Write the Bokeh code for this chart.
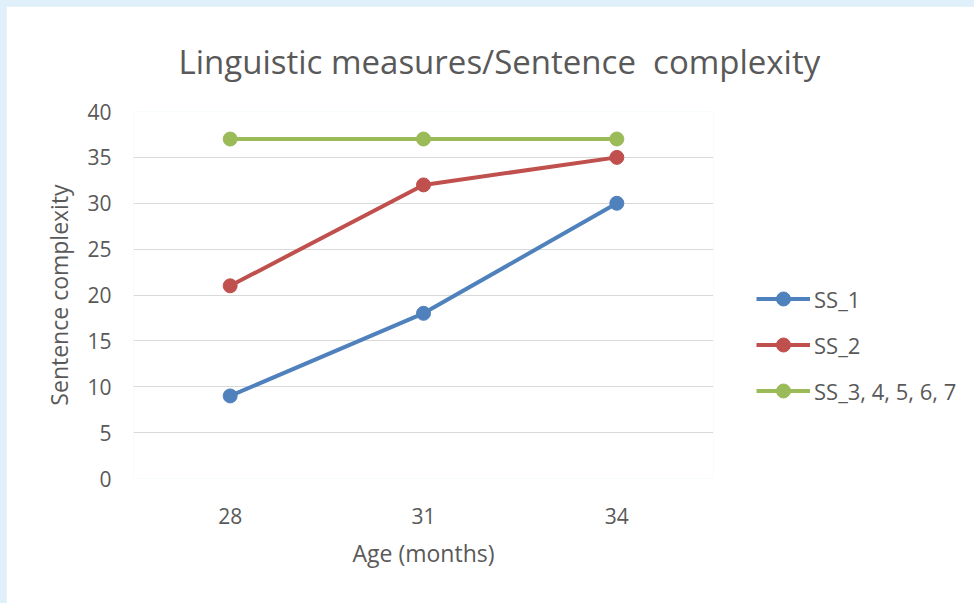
from bokeh.plotting import figure
from bokeh.models import Legend, LegendItem, SingleIntervalTicker
from bokeh.layouts import column
from bokeh.embed import file_html
from bokeh.resources import INLINE

ages = ["28", "31", "34"]
ss_1 = [9, 18, 30]
ss_2 = [21, 32, 35]
ss_3_7 = [37, 37, 37]
series_names = ["SS_1", "SS_2", "SS_3, 4, 5, 6, 7"]
colors = ["#4f81bd", "#c0504d", "#9bbb59"]
title_text = "Linguistic measures/Sentence\u00a0 complexity"

FONT = "Open Sans"
TXT = "#595959"

p = figure(x_range=ages, y_range=(0, 40), frame_width=580, frame_height=367,
           output_backend="svg", toolbar_location=None,
           min_border_left=127, min_border_right=261,
           min_border_top=105, min_border_bottom=125)
p.margin = (6, 0, 0, 6)
p.outline_line_color = None
p.background_fill_color = "white"
p.border_fill_color = "white"

p.title.text = title_text
p.title.align = "left"
p.title.offset = 45
p.title.text_font = FONT
p.title.text_font_size = "33px"
p.title.text_color = TXT
p.title.text_font_style = "normal"
p.title.standoff = 56

p.yaxis.ticker = SingleIntervalTicker(interval=5)
p.ygrid.grid_line_color = "#d9d9d9"
p.ygrid.grid_line_width = 1
p.xgrid.grid_line_color = None

for ax in (p.xaxis, p.yaxis):
    ax.axis_line_color = None
    ax.major_tick_line_color = None
    ax.minor_tick_line_color = None
    ax.major_label_text_font = FONT
    ax.major_label_text_font_size = "21px"
    ax.major_label_text_color = TXT
    ax.axis_label_text_font = FONT
    ax.axis_label_text_font_size = "23px"
    ax.axis_label_text_color = TXT
    ax.axis_label_text_font_style = "normal"

p.xaxis.axis_label = "Age (months)"
p.yaxis.axis_label = "Sentence complexity"
p.xaxis.major_label_standoff = 23
p.yaxis.major_label_standoff = 16
p.xaxis.axis_label_standoff = 10
p.yaxis.axis_label_standoff = 9

items = []
for name, vals, c in zip(series_names, [ss_1, ss_2, ss_3_7], colors):
    r1 = p.line(ages, vals, line_color=c, line_width=4)
    r2 = p.scatter(ages, vals, size=14, fill_color=c, line_color=c)
    items.append(LegendItem(label=name, renderers=[r1, r2]))

legend = Legend(items=items, location=(43, 70), orientation="vertical",
                padding=0, margin=0, spacing=11, glyph_width=54, glyph_height=35,
                label_height=35, label_standoff=4,
                label_text_font=FONT, label_text_font_size="22px",
                label_text_color=TXT, border_line_color=None,
                background_fill_alpha=0)
p.add_layout(legend, "right")

root = column(p, styles={"background-color": "#dff0fa"})

html = file_html(root, INLINE)
open("out.html", "w").write(html)
